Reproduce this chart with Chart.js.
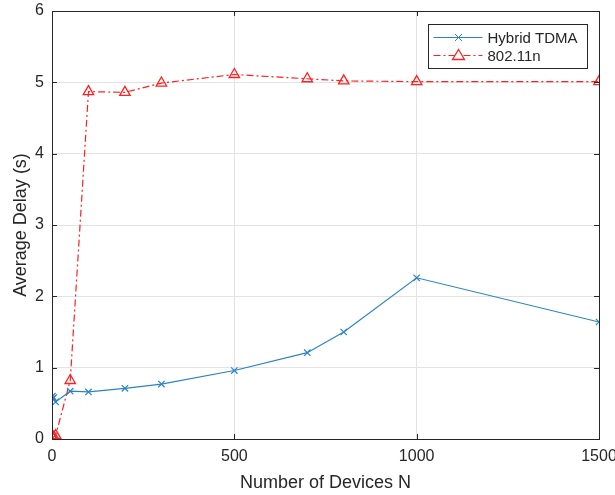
<!DOCTYPE html>
<html>
<head>
<meta charset="utf-8">
<script src="https://cdn.jsdelivr.net/npm/chart.js@4/dist/chart.umd.min.js"></script>
<style>
  html, body { margin: 0; padding: 0; background: #fff; }
  #wrap { width: 615px; height: 495px; }
</style>
</head>
<body>
<div id="wrap"><canvas id="c" width="615" height="495"></canvas></div>
<script>
// Number of devices N and the measured average delay (s) per scheme
const deviceCounts = [1, 2, 5, 10, 50, 100, 200, 300, 500, 700, 800, 1000, 1500];
const hybridTdmaDelay = [0.60, 0.57, 0.58, 0.52, 0.67, 0.66, 0.71, 0.77, 0.96, 1.21, 1.50, 2.26, 1.64];
const wifiDelay = [0.02, 0.02, 0.03, 0.05, 0.82, 4.87, 4.86, 4.99, 5.11, 5.05, 5.02, 5.01, 5.01];
const xTicks = [0, 500, 1000, 1500];
const yTicks = [0, 1, 2, 3, 4, 5, 6];
const seriesNames = ['Hybrid TDMA', '802.11n'];

const BLUE = '#2b83c6';
const RED = '#ff2020';
const AXIS = '#262626';
const FONT = '"Liberation Sans", Arial, Helvetica, sans-serif';

const toPoints = (xs, ys) => xs.map((x, i) => ({ x: x, y: ys[i] }));

// Box around the axes, inward tick marks and the legend
const frame = {
  id: 'frame',
  afterDraw(chart) {
    const { ctx, chartArea: a, scales: { x, y } } = chart;
    ctx.save();
    ctx.strokeStyle = AXIS;
    ctx.lineWidth = 1;
    ctx.strokeRect(Math.round(a.left) + 0.5, Math.round(a.top) + 0.5,
      Math.round(a.right - a.left), Math.round(a.bottom - a.top));
    ctx.beginPath();
    xTicks.forEach(v => {
      const px = Math.round(x.getPixelForValue(v)) + 0.5;
      ctx.moveTo(px, a.bottom); ctx.lineTo(px, a.bottom - 5);
      ctx.moveTo(px, a.top); ctx.lineTo(px, a.top + 5);
    });
    yTicks.forEach(v => {
      const py = Math.round(y.getPixelForValue(v)) + 0.5;
      ctx.moveTo(a.left, py); ctx.lineTo(a.left + 5, py);
      ctx.moveTo(a.right, py); ctx.lineTo(a.right - 5, py);
    });
    ctx.stroke();

    // legend
    const lx = 428.5, ly = 24.5, lw = 159, lh = 44;
    ctx.fillStyle = '#fff';
    ctx.fillRect(lx, ly, lw, lh);
    ctx.strokeStyle = AXIS;
    ctx.strokeRect(lx, ly, lw, lh);
    const rows = [
      { name: seriesNames[0], color: BLUE, dash: [], y: ly + 13 },
      { name: seriesNames[1], color: RED, dash: [7, 3, 2, 3], y: ly + 31 }
    ];
    rows.forEach((r, i) => {
      ctx.strokeStyle = r.color;
      ctx.lineWidth = 1;
      ctx.setLineDash(r.dash);
      ctx.beginPath();
      ctx.moveTo(lx + 5, r.y); ctx.lineTo(lx + 54, r.y);
      ctx.stroke();
      ctx.setLineDash([]);
      const cx = lx + 30;
      ctx.beginPath();
      if (i === 0) {
        ctx.moveTo(cx - 3.5, r.y - 3.5); ctx.lineTo(cx + 3.5, r.y + 3.5);
        ctx.moveTo(cx + 3.5, r.y - 3.5); ctx.lineTo(cx - 3.5, r.y + 3.5);
        ctx.stroke();
      } else {
        ctx.fillStyle = '#fff';
        ctx.moveTo(cx, r.y - 6); ctx.lineTo(cx + 6, r.y + 4); ctx.lineTo(cx - 6, r.y + 4);
        ctx.closePath();
        ctx.fill();
        ctx.lineWidth = 1.3;
        ctx.stroke();
      }
      ctx.fillStyle = AXIS;
      ctx.font = '15px ' + FONT;
      ctx.textBaseline = 'middle';
      ctx.textAlign = 'left';
      ctx.fillText(r.name, lx + 59, r.y + 1);
    });
    ctx.restore();
  }
};

new Chart(document.getElementById('c'), {
  type: 'scatter',
  data: {
    datasets: [
      {
        label: seriesNames[0],
        data: toPoints(deviceCounts, hybridTdmaDelay),
        showLine: true,
        borderColor: BLUE,
        backgroundColor: BLUE,
        borderWidth: 1.2,
        pointStyle: 'crossRot',
        pointRadius: 4.5,
        pointBorderWidth: 1.2,
        pointBorderColor: BLUE,
        tension: 0
      },
      {
        label: seriesNames[1],
        data: toPoints(deviceCounts, wifiDelay),
        showLine: true,
        borderColor: RED,
        backgroundColor: 'rgba(255,255,255,0)',
        borderWidth: 1.2,
        borderDash: [7, 3, 2, 3],
        pointStyle: 'triangle',
        pointRadius: 6,
        pointBorderWidth: 1.3,
        pointBorderColor: RED,
        pointBackgroundColor: 'rgba(255,255,255,0)',
        tension: 0
      }
    ]
  },
  options: {
    responsive: false,
    animation: false,
    devicePixelRatio: 1,
    layout: { padding: { left: 10, right: 0, top: 0, bottom: 1 } },
    plugins: {
      legend: { display: false },
      tooltip: { enabled: false }
    },
    scales: {
      x: {
        type: 'linear',
        min: 0, max: 1500,
        afterFit: s => { s.height = 495 - 439 - 1; s.paddingRight = 16; s.paddingLeft = 0; },
        afterBuildTicks: s => { s.ticks = xTicks.map(v => ({ value: v })); },
        grid: { color: '#e3e3e3', drawTicks: false },
        border: { display: false },
        ticks: { color: AXIS, font: { family: FONT, size: 16 }, padding: 8, maxRotation: 0,
          callback: v => String(v) },
        title: { display: true, text: 'Number of Devices N', color: AXIS,
          font: { family: FONT, size: 18 }, padding: { top: 2, bottom: 0 } }
      },
      y: {
        min: 0, max: 6,
        afterFit: s => { s.width = 42; s.paddingTop = 11; s.paddingBottom = 0; },
        afterBuildTicks: s => { s.ticks = yTicks.map(v => ({ value: v })); },
        grid: { color: '#e3e3e3', drawTicks: false },
        border: { display: false },
        ticks: { color: AXIS, font: { family: FONT, size: 16 }, padding: 8,
          callback: v => String(v) },
        title: { display: true, text: 'Average Delay (s)', color: AXIS,
          font: { family: FONT, size: 18 }, padding: { top: 0, bottom: 4 } }
      }
    }
  },
  plugins: [frame]
});
</script>
</body>
</html>
